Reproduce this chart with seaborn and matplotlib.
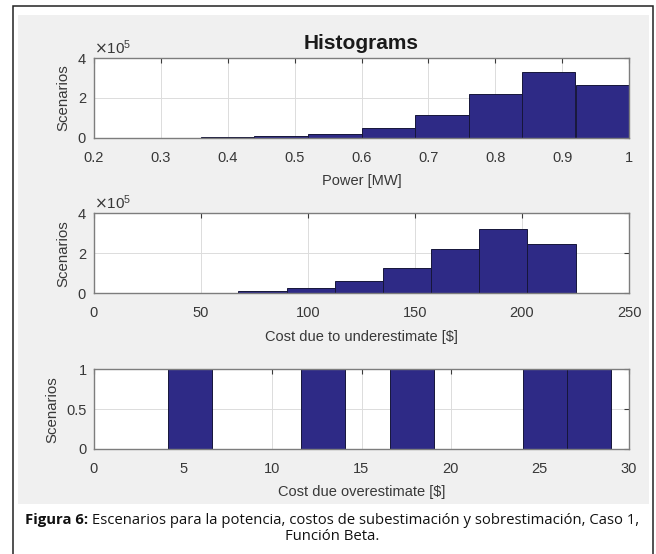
import numpy as np
import pandas as pd
import matplotlib
matplotlib.use("Agg")
import matplotlib.pyplot as plt
import seaborn as sns
from matplotlib.patches import Rectangle
from matplotlib.ticker import FormatStrFormatter

# histogram bins and counts
power_edges = np.linspace(0.2, 1.0, 11)
power_counts = [200, 800, 2500, 7000, 18000, 49000, 115000, 218000, 329000, 268000]
power_ticks = [0.2, 0.3, 0.4, 0.5, 0.6, 0.7, 0.8, 0.9, 1.0]

under_edges = np.linspace(0, 225, 11)
under_counts = [100, 500, 3000, 10000, 26000, 60000, 126000, 220000, 319000, 247000]
under_ticks = [0, 50, 100, 150, 200, 250]

over_edges = np.linspace(4.15, 29.0, 11)
over_counts = [1, 0, 0, 1, 0, 1, 0, 0, 1, 1]
over_ticks = [0, 5, 10, 15, 20, 25, 30]

count_ticks = [0, 200000, 400000]
over_count_ticks = [0, 0.5, 1]

bar_color = "#2e2a86"
W, H = 656, 554

sns.set_theme(style="white")
plt.rcParams["font.family"] = ["Liberation Sans", "DejaVu Sans"]

fig = plt.figure(figsize=(W / 100, H / 100), dpi=100)
fig.patch.set_facecolor("white")
# gray matlab figure area + outer frame
fig.patches.append(Rectangle((18 / W, 1 - 503.5 / H), 631 / W, 488.5 / H,
                             transform=fig.transFigure, facecolor="#f0f0f0",
                             edgecolor="none", zorder=-2))
fig.patches.append(Rectangle((12.7 / W, -0.05), 640 / W, 1.05 - 6 / H,
                             transform=fig.transFigure, fill=False,
                             edgecolor="#222222", lw=1.1, zorder=-1))

panels = [
    (137.7, 79.4, power_edges, power_counts, power_ticks, (0.2, 1.0), count_ticks, (0, 400000), "Power [MW]"),
    (293.3, 80.0, under_edges, under_counts, under_ticks, (0, 250), count_ticks, (0, 400000), "Cost due to underestimate [$]"),
    (449.0, 79.7, over_edges, over_counts, over_ticks, (0, 30), over_count_ticks, (0, 1), "Cost due overestimate [$]"),
]

axes = []
for bottom, height, edges, counts, xt, xl, yt, yl, xlab in panels:
    ax = fig.add_axes([94 / W, 1 - bottom / H, 535 / W, height / H])
    df = pd.DataFrame({"center": (edges[:-1] + edges[1:]) / 2, "count": counts})
    sns.histplot(data=df, x="center", weights="count", bins=list(edges), color=bar_color,
                 edgecolor="#16163a", linewidth=0.7, alpha=1, ax=ax)
    ax.set_facecolor("white")
    ax.set_xlim(*xl)
    ax.set_ylim(*yl)
    ax.set_xticks(xt)
    ax.set_yticks(yt)
    ax.xaxis.set_major_formatter(FormatStrFormatter("%g"))
    ax.grid(True, color="#dcdcdc", lw=0.7)
    ax.set_axisbelow(True)
    for s in ax.spines.values():
        s.set_color("#7d7d7d")
        s.set_linewidth(1.0)
    ax.tick_params(direction="in", top=True, right=True, length=3.5, width=0.8,
                   color="#3a3a3a", labelcolor="#383838", labelsize=10.5)
    ax.tick_params(axis="x", pad=9.5)
    ax.tick_params(axis="y", pad=5)
    ax.set_xlabel(xlab, fontsize=10.5, color="#383838", labelpad=6.5)
    ax.set_ylabel("Scenarios", fontsize=10.8, color="#383838", labelpad=5)
    axes.append(ax)

for ax in axes[:2]:
    ax.ticklabel_format(axis="y", style="sci", scilimits=(0, 0), useMathText=True)
    ax.yaxis.get_offset_text().set_fontsize(11)
    ax.yaxis.get_offset_text().set_color("#383838")
axes[2].yaxis.set_major_formatter(FormatStrFormatter("%g"))

axes[0].set_title("Histograms", fontsize=15, fontweight="bold", color="#1a1a1a", pad=7)

# caption with bold lead-in
cap_font = dict(family=["Open Sans", "DejaVu Sans"], size=10.7, color="#111111", va="center")
fig.canvas.draw()
r = fig.canvas.get_renderer()
y1 = 1 - 520 / H
t_b = fig.text(0, y1, "Figura 6:", fontweight="bold", **cap_font)
t_n = fig.text(0, y1, " Escenarios para la potencia, costos de subestimación y sobrestimación, Caso 1,", **cap_font)
wb = t_b.get_window_extent(r).width
wn = t_n.get_window_extent(r).width
x0 = (W * 0.5 + 4 - (wb + wn) / 2)
t_b.set_x(x0 / W)
t_n.set_x((x0 + wb) / W)
fig.text((W * 0.5 + 4) / W, 1 - 536.7 / H, "Función Beta.", ha="center", **cap_font)

fig.savefig("out.png", dpi=100)
